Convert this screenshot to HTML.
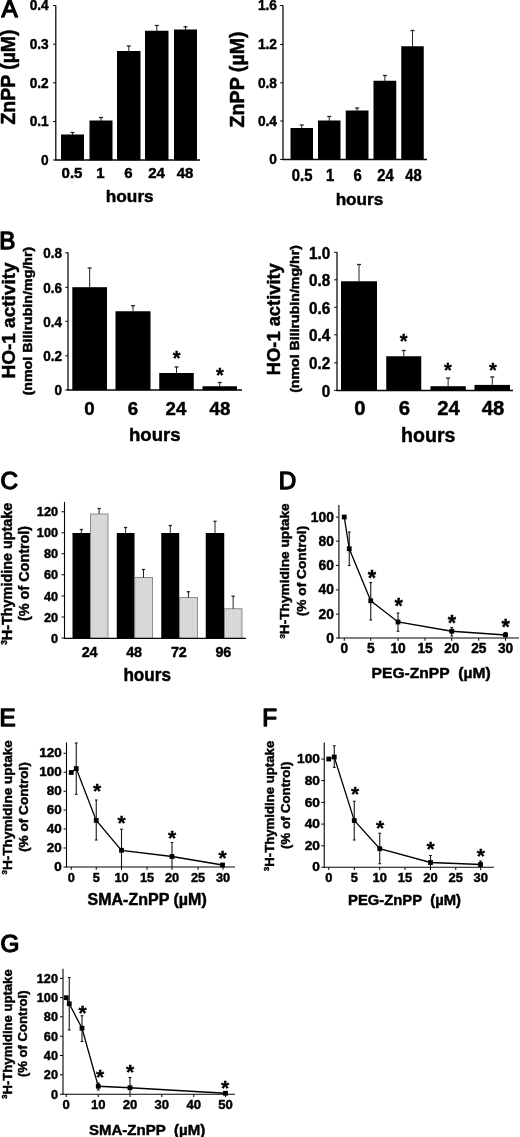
<!DOCTYPE html>
<html><head><meta charset="utf-8"><title>Figure</title>
<style>
html,body{margin:0;padding:0;background:#fff;}
svg{display:block;filter:grayscale(1) blur(0.35px);font-family:"Liberation Sans",sans-serif;}
</style></head>
<body>
<svg width="520" height="1137" viewBox="0 0 520 1137">
<defs>
<pattern id="dots" width="2" height="2" patternUnits="userSpaceOnUse">
<rect width="2" height="2" fill="#dbdbdb"/><rect width="1" height="1" fill="#cccccc"/>
</pattern>
</defs>
<rect width="520" height="1137" fill="#fff"/>
<rect x="61.00" y="134.50" width="23.00" height="25.80" fill="#000"/>
<line x1="72.50" y1="132.50" x2="72.50" y2="135.00" stroke="#222" stroke-width="1.0"/>
<line x1="70.50" y1="132.50" x2="74.50" y2="132.50" stroke="#222" stroke-width="1.3"/>
<rect x="89.50" y="120.50" width="23.00" height="39.80" fill="#000"/>
<line x1="101.00" y1="117.50" x2="101.00" y2="121.00" stroke="#222" stroke-width="1.0"/>
<line x1="99.00" y1="117.50" x2="103.00" y2="117.50" stroke="#222" stroke-width="1.3"/>
<rect x="117.00" y="51.00" width="23.50" height="109.30" fill="#000"/>
<line x1="128.75" y1="46.00" x2="128.75" y2="51.50" stroke="#222" stroke-width="1.0"/>
<line x1="126.75" y1="46.00" x2="130.75" y2="46.00" stroke="#222" stroke-width="1.3"/>
<rect x="145.00" y="30.75" width="23.50" height="129.55" fill="#000"/>
<line x1="156.75" y1="25.50" x2="156.75" y2="31.25" stroke="#222" stroke-width="1.0"/>
<line x1="154.75" y1="25.50" x2="158.75" y2="25.50" stroke="#222" stroke-width="1.3"/>
<rect x="174.00" y="29.50" width="23.00" height="130.80" fill="#000"/>
<line x1="185.50" y1="26.75" x2="185.50" y2="30.00" stroke="#222" stroke-width="1.0"/>
<line x1="183.50" y1="26.75" x2="187.50" y2="26.75" stroke="#222" stroke-width="1.3"/>
<line x1="55.80" y1="5.50" x2="55.80" y2="160.50" stroke="#050505" stroke-width="1.25"/>
<line x1="55.30" y1="160.00" x2="200.00" y2="160.00" stroke="#050505" stroke-width="1.3"/>
<line x1="53.00" y1="5.50" x2="55.80" y2="5.50" stroke="#050505" stroke-width="1.0"/>
<text transform="translate(48.70,10.49) scale(0.945,1)" font-size="14.5" font-weight="bold" text-anchor="end" fill="#000" stroke="#000" stroke-width="0.45">0.4</text>
<line x1="53.00" y1="44.15" x2="55.80" y2="44.15" stroke="#050505" stroke-width="1.0"/>
<text transform="translate(48.70,49.14) scale(0.945,1)" font-size="14.5" font-weight="bold" text-anchor="end" fill="#000" stroke="#000" stroke-width="0.45">0.3</text>
<line x1="53.00" y1="82.80" x2="55.80" y2="82.80" stroke="#050505" stroke-width="1.0"/>
<text transform="translate(48.70,87.79) scale(0.945,1)" font-size="14.5" font-weight="bold" text-anchor="end" fill="#000" stroke="#000" stroke-width="0.45">0.2</text>
<line x1="53.00" y1="121.45" x2="55.80" y2="121.45" stroke="#050505" stroke-width="1.0"/>
<text transform="translate(48.70,126.44) scale(0.945,1)" font-size="14.5" font-weight="bold" text-anchor="end" fill="#000" stroke="#000" stroke-width="0.45">0.1</text>
<line x1="53.00" y1="160.00" x2="55.80" y2="160.00" stroke="#050505" stroke-width="1.0"/>
<text transform="translate(48.70,164.99) scale(0.945,1)" font-size="14.5" font-weight="bold" text-anchor="end" fill="#000" stroke="#000" stroke-width="0.45">0</text>
<text transform="translate(72.00,178.15) scale(0.98,1)" font-size="15.3" font-weight="bold" text-anchor="middle" fill="#000" stroke="#000" stroke-width="0.45">0.5</text>
<text transform="translate(100.50,178.15) scale(0.98,1)" font-size="15.3" font-weight="bold" text-anchor="middle" fill="#000" stroke="#000" stroke-width="0.45">1</text>
<text transform="translate(128.50,178.15) scale(0.98,1)" font-size="15.3" font-weight="bold" text-anchor="middle" fill="#000" stroke="#000" stroke-width="0.45">6</text>
<text transform="translate(156.50,178.15) scale(0.98,1)" font-size="15.3" font-weight="bold" text-anchor="middle" fill="#000" stroke="#000" stroke-width="0.45">24</text>
<text transform="translate(185.00,178.15) scale(0.98,1)" font-size="15.3" font-weight="bold" text-anchor="middle" fill="#000" stroke="#000" stroke-width="0.45">48</text>
<text transform="translate(129.75,202.10) scale(0.99,1)" font-size="17.4" font-weight="bold" text-anchor="middle" fill="#000" stroke="#000" stroke-width="0.45">hours</text>
<text transform="translate(15.20,77.00) rotate(-90) scale(1.008,1)" font-size="19.3" font-weight="bold" text-anchor="middle" fill="#000" stroke="#000" stroke-width="0.45">ZnPP (µM)</text>
<text transform="translate(1.47,17.45) scale(1.04,1)" font-size="23.3" font-weight="normal" text-anchor="start" fill="#000" stroke="#000" stroke-width="1.3" stroke-linejoin="round">A</text>
<rect x="290.50" y="128.00" width="22.50" height="31.80" fill="#000"/>
<line x1="301.75" y1="125.00" x2="301.75" y2="128.50" stroke="#222" stroke-width="1.0"/>
<line x1="299.75" y1="125.00" x2="303.75" y2="125.00" stroke="#222" stroke-width="1.3"/>
<rect x="318.00" y="120.50" width="22.50" height="39.30" fill="#000"/>
<line x1="329.25" y1="116.50" x2="329.25" y2="121.00" stroke="#222" stroke-width="1.0"/>
<line x1="327.25" y1="116.50" x2="331.25" y2="116.50" stroke="#222" stroke-width="1.3"/>
<rect x="345.75" y="110.50" width="22.75" height="49.30" fill="#000"/>
<line x1="357.12" y1="108.00" x2="357.12" y2="111.00" stroke="#222" stroke-width="1.0"/>
<line x1="355.12" y1="108.00" x2="359.12" y2="108.00" stroke="#222" stroke-width="1.3"/>
<rect x="373.50" y="80.75" width="22.75" height="79.05" fill="#000"/>
<line x1="384.88" y1="75.50" x2="384.88" y2="81.25" stroke="#222" stroke-width="1.0"/>
<line x1="382.88" y1="75.50" x2="386.88" y2="75.50" stroke="#222" stroke-width="1.3"/>
<rect x="401.25" y="46.25" width="22.50" height="113.55" fill="#000"/>
<line x1="412.50" y1="30.50" x2="412.50" y2="46.75" stroke="#222" stroke-width="1.0"/>
<line x1="410.50" y1="30.50" x2="414.50" y2="30.50" stroke="#222" stroke-width="1.3"/>
<line x1="283.00" y1="5.50" x2="283.00" y2="160.00" stroke="#050505" stroke-width="1.25"/>
<line x1="282.50" y1="159.50" x2="427.00" y2="159.50" stroke="#050505" stroke-width="1.3"/>
<line x1="280.20" y1="5.50" x2="283.00" y2="5.50" stroke="#050505" stroke-width="1.0"/>
<text transform="translate(277.00,10.42) scale(0.96,1)" font-size="14.3" font-weight="bold" text-anchor="end" fill="#000" stroke="#000" stroke-width="0.45">1.6</text>
<line x1="280.20" y1="44.50" x2="283.00" y2="44.50" stroke="#050505" stroke-width="1.0"/>
<text transform="translate(277.00,49.42) scale(0.96,1)" font-size="14.3" font-weight="bold" text-anchor="end" fill="#000" stroke="#000" stroke-width="0.45">1.2</text>
<line x1="280.20" y1="82.80" x2="283.00" y2="82.80" stroke="#050505" stroke-width="1.0"/>
<text transform="translate(277.00,87.72) scale(0.96,1)" font-size="14.3" font-weight="bold" text-anchor="end" fill="#000" stroke="#000" stroke-width="0.45">0.8</text>
<line x1="280.20" y1="121.00" x2="283.00" y2="121.00" stroke="#050505" stroke-width="1.0"/>
<text transform="translate(277.00,125.92) scale(0.96,1)" font-size="14.3" font-weight="bold" text-anchor="end" fill="#000" stroke="#000" stroke-width="0.45">0.4</text>
<line x1="280.20" y1="159.50" x2="283.00" y2="159.50" stroke="#050505" stroke-width="1.0"/>
<text transform="translate(277.00,164.42) scale(0.96,1)" font-size="14.3" font-weight="bold" text-anchor="end" fill="#000" stroke="#000" stroke-width="0.45">0</text>
<text transform="translate(302.10,181.10) scale(0.95,1)" font-size="15.6" font-weight="bold" text-anchor="middle" fill="#000" stroke="#000" stroke-width="0.45">0.5</text>
<text transform="translate(330.10,181.10) scale(0.95,1)" font-size="15.6" font-weight="bold" text-anchor="middle" fill="#000" stroke="#000" stroke-width="0.45">1</text>
<text transform="translate(357.60,181.10) scale(0.95,1)" font-size="15.6" font-weight="bold" text-anchor="middle" fill="#000" stroke="#000" stroke-width="0.45">6</text>
<text transform="translate(385.60,181.10) scale(0.95,1)" font-size="15.6" font-weight="bold" text-anchor="middle" fill="#000" stroke="#000" stroke-width="0.45">24</text>
<text transform="translate(413.60,181.10) scale(0.95,1)" font-size="15.6" font-weight="bold" text-anchor="middle" fill="#000" stroke="#000" stroke-width="0.45">48</text>
<text transform="translate(359.50,205.05) scale(1.0,1)" font-size="17.2" font-weight="bold" text-anchor="middle" fill="#000" stroke="#000" stroke-width="0.45">hours</text>
<text transform="translate(243.85,79.40) rotate(-90) scale(1.018,1)" font-size="19.3" font-weight="bold" text-anchor="middle" fill="#000" stroke="#000" stroke-width="0.45">ZnPP (µM)</text>
<rect x="72.30" y="287.20" width="34.70" height="103.10" fill="#000"/>
<line x1="89.65" y1="268.00" x2="89.65" y2="287.70" stroke="#222" stroke-width="1.0"/>
<line x1="87.65" y1="268.00" x2="91.65" y2="268.00" stroke="#222" stroke-width="1.3"/>
<rect x="115.50" y="311.25" width="35.00" height="79.05" fill="#000"/>
<line x1="133.00" y1="305.75" x2="133.00" y2="311.75" stroke="#222" stroke-width="1.0"/>
<line x1="131.00" y1="305.75" x2="135.00" y2="305.75" stroke="#222" stroke-width="1.3"/>
<rect x="159.25" y="373.00" width="34.50" height="17.30" fill="#000"/>
<line x1="176.50" y1="367.00" x2="176.50" y2="373.50" stroke="#222" stroke-width="1.0"/>
<line x1="174.50" y1="367.00" x2="178.50" y2="367.00" stroke="#222" stroke-width="1.3"/>
<rect x="202.50" y="386.25" width="34.50" height="4.05" fill="#000"/>
<line x1="219.75" y1="382.50" x2="219.75" y2="386.75" stroke="#222" stroke-width="1.0"/>
<line x1="217.75" y1="382.50" x2="221.75" y2="382.50" stroke="#222" stroke-width="1.3"/>
<line x1="68.00" y1="252.50" x2="68.00" y2="390.50" stroke="#050505" stroke-width="1.25"/>
<line x1="67.50" y1="390.00" x2="242.00" y2="390.00" stroke="#050505" stroke-width="1.3"/>
<line x1="65.20" y1="252.80" x2="68.00" y2="252.80" stroke="#050505" stroke-width="1.0"/>
<text transform="translate(61.90,258.03) scale(0.925,1)" font-size="14.6" font-weight="bold" text-anchor="end" fill="#000" stroke="#000" stroke-width="0.45">0.8</text>
<line x1="65.20" y1="287.30" x2="68.00" y2="287.30" stroke="#050505" stroke-width="1.0"/>
<text transform="translate(61.90,292.53) scale(0.925,1)" font-size="14.6" font-weight="bold" text-anchor="end" fill="#000" stroke="#000" stroke-width="0.45">0.6</text>
<line x1="65.20" y1="321.30" x2="68.00" y2="321.30" stroke="#050505" stroke-width="1.0"/>
<text transform="translate(61.90,326.53) scale(0.925,1)" font-size="14.6" font-weight="bold" text-anchor="end" fill="#000" stroke="#000" stroke-width="0.45">0.4</text>
<line x1="65.20" y1="355.80" x2="68.00" y2="355.80" stroke="#050505" stroke-width="1.0"/>
<text transform="translate(61.90,361.03) scale(0.925,1)" font-size="14.6" font-weight="bold" text-anchor="end" fill="#000" stroke="#000" stroke-width="0.45">0.2</text>
<line x1="65.20" y1="390.00" x2="68.00" y2="390.00" stroke="#050505" stroke-width="1.0"/>
<text transform="translate(61.90,395.23) scale(0.925,1)" font-size="14.6" font-weight="bold" text-anchor="end" fill="#000" stroke="#000" stroke-width="0.45">0</text>
<text transform="translate(89.50,415.00) scale(1.01,1)" font-size="18.5" font-weight="bold" text-anchor="middle" fill="#000" stroke="#000" stroke-width="0.45">0</text>
<text transform="translate(133.00,415.00) scale(1.01,1)" font-size="18.5" font-weight="bold" text-anchor="middle" fill="#000" stroke="#000" stroke-width="0.45">6</text>
<text transform="translate(176.00,415.00) scale(1.01,1)" font-size="18.5" font-weight="bold" text-anchor="middle" fill="#000" stroke="#000" stroke-width="0.45">24</text>
<text transform="translate(220.00,415.00) scale(1.01,1)" font-size="18.5" font-weight="bold" text-anchor="middle" fill="#000" stroke="#000" stroke-width="0.45">48</text>
<text transform="translate(154.80,440.85) scale(1.02,1)" font-size="18.2" font-weight="bold" text-anchor="middle" fill="#000" stroke="#000" stroke-width="0.45">hours</text>
<text transform="translate(15.40,320.50) rotate(-90) scale(1.0,1)" font-size="19" font-weight="bold" text-anchor="middle" fill="#000" stroke="#000" stroke-width="0.45">HO-1 activity</text>
<text transform="translate(32.30,321.10) rotate(-90) scale(1.17,1)" font-size="12.2" font-weight="bold" text-anchor="middle" fill="#000" stroke="#000" stroke-width="0.45">(nmol Bilirubin/mg/hr)</text>
<text transform="translate(176.75,364.55) scale(1.0,1)" font-size="20" font-weight="bold" text-anchor="middle" fill="#000" stroke="#000" stroke-width="0.35">*</text>
<text transform="translate(220.00,381.50) scale(1.0,1)" font-size="20" font-weight="bold" text-anchor="middle" fill="#000" stroke="#000" stroke-width="0.35">*</text>
<text transform="translate(-0.72,248.95) scale(1.04,1)" font-size="23.3" font-weight="normal" text-anchor="start" fill="#000" stroke="#000" stroke-width="1.3" stroke-linejoin="round">B</text>
<rect x="341.00" y="281.25" width="36.00" height="109.55" fill="#000"/>
<line x1="359.00" y1="264.50" x2="359.00" y2="281.75" stroke="#222" stroke-width="1.0"/>
<line x1="357.00" y1="264.50" x2="361.00" y2="264.50" stroke="#222" stroke-width="1.3"/>
<rect x="386.25" y="356.25" width="35.00" height="34.55" fill="#000"/>
<line x1="403.75" y1="350.50" x2="403.75" y2="356.75" stroke="#222" stroke-width="1.0"/>
<line x1="401.75" y1="350.50" x2="405.75" y2="350.50" stroke="#222" stroke-width="1.3"/>
<rect x="430.50" y="386.20" width="35.25" height="4.60" fill="#000"/>
<line x1="448.12" y1="378.10" x2="448.12" y2="386.70" stroke="#222" stroke-width="1.0"/>
<line x1="446.12" y1="378.10" x2="450.12" y2="378.10" stroke="#222" stroke-width="1.3"/>
<rect x="474.50" y="384.90" width="35.50" height="5.90" fill="#000"/>
<line x1="492.25" y1="376.90" x2="492.25" y2="385.40" stroke="#222" stroke-width="1.0"/>
<line x1="490.25" y1="376.90" x2="494.25" y2="376.90" stroke="#222" stroke-width="1.3"/>
<line x1="337.00" y1="252.00" x2="337.00" y2="391.00" stroke="#050505" stroke-width="1.25"/>
<line x1="336.50" y1="390.50" x2="513.00" y2="390.50" stroke="#050505" stroke-width="1.3"/>
<line x1="334.20" y1="252.30" x2="337.00" y2="252.30" stroke="#050505" stroke-width="1.0"/>
<text transform="translate(330.20,258.88) scale(0.915,1)" font-size="16.7" font-weight="bold" text-anchor="end" fill="#000" stroke="#000" stroke-width="0.45">1.0</text>
<line x1="334.20" y1="279.80" x2="337.00" y2="279.80" stroke="#050505" stroke-width="1.0"/>
<text transform="translate(330.20,286.38) scale(0.915,1)" font-size="16.7" font-weight="bold" text-anchor="end" fill="#000" stroke="#000" stroke-width="0.45">0.8</text>
<line x1="334.20" y1="307.30" x2="337.00" y2="307.30" stroke="#050505" stroke-width="1.0"/>
<text transform="translate(330.20,313.88) scale(0.915,1)" font-size="16.7" font-weight="bold" text-anchor="end" fill="#000" stroke="#000" stroke-width="0.45">0.6</text>
<line x1="334.20" y1="334.80" x2="337.00" y2="334.80" stroke="#050505" stroke-width="1.0"/>
<text transform="translate(330.20,341.38) scale(0.915,1)" font-size="16.7" font-weight="bold" text-anchor="end" fill="#000" stroke="#000" stroke-width="0.45">0.4</text>
<line x1="334.20" y1="362.80" x2="337.00" y2="362.80" stroke="#050505" stroke-width="1.0"/>
<text transform="translate(330.20,369.38) scale(0.915,1)" font-size="16.7" font-weight="bold" text-anchor="end" fill="#000" stroke="#000" stroke-width="0.45">0.2</text>
<line x1="334.20" y1="390.40" x2="337.00" y2="390.40" stroke="#050505" stroke-width="1.0"/>
<text transform="translate(330.20,396.98) scale(0.915,1)" font-size="16.7" font-weight="bold" text-anchor="end" fill="#000" stroke="#000" stroke-width="0.45">0</text>
<text transform="translate(359.85,415.40) scale(0.99,1)" font-size="20.5" font-weight="bold" text-anchor="middle" fill="#000" stroke="#000" stroke-width="0.45">0</text>
<text transform="translate(404.35,415.40) scale(0.99,1)" font-size="20.5" font-weight="bold" text-anchor="middle" fill="#000" stroke="#000" stroke-width="0.45">6</text>
<text transform="translate(448.60,415.40) scale(0.99,1)" font-size="20.5" font-weight="bold" text-anchor="middle" fill="#000" stroke="#000" stroke-width="0.45">24</text>
<text transform="translate(493.10,415.40) scale(0.99,1)" font-size="20.5" font-weight="bold" text-anchor="middle" fill="#000" stroke="#000" stroke-width="0.45">48</text>
<text transform="translate(428.20,442.30) scale(0.97,1)" font-size="20.2" font-weight="bold" text-anchor="middle" fill="#000" stroke="#000" stroke-width="0.45">hours</text>
<text transform="translate(280.00,319.20) rotate(-90) scale(1.03,1)" font-size="17.8" font-weight="bold" text-anchor="middle" fill="#000" stroke="#000" stroke-width="0.45">HO-1 activity</text>
<text transform="translate(298.50,319.00) rotate(-90) scale(1.19,1)" font-size="11.9" font-weight="bold" text-anchor="middle" fill="#000" stroke="#000" stroke-width="0.45">(nmol Bilirubin/mg/hr)</text>
<text transform="translate(403.75,347.80) scale(1.0,1)" font-size="20" font-weight="bold" text-anchor="middle" fill="#000" stroke="#000" stroke-width="0.35">*</text>
<text transform="translate(448.00,376.80) scale(1.0,1)" font-size="20" font-weight="bold" text-anchor="middle" fill="#000" stroke="#000" stroke-width="0.35">*</text>
<text transform="translate(493.00,376.80) scale(1.0,1)" font-size="20" font-weight="bold" text-anchor="middle" fill="#000" stroke="#000" stroke-width="0.35">*</text>
<rect x="72.50" y="533.00" width="17.75" height="105.60" fill="#000"/>
<rect x="90.55" y="514.00" width="17.45" height="124.30" fill="url(#dots)" stroke="#777" stroke-width="0.8"/>
<line x1="81.38" y1="529.50" x2="81.38" y2="533.50" stroke="#222" stroke-width="1.0"/>
<line x1="79.78" y1="529.50" x2="82.97" y2="529.50" stroke="#222" stroke-width="1.3"/>
<line x1="99.12" y1="508.50" x2="99.12" y2="514.00" stroke="#222" stroke-width="1.0"/>
<line x1="97.53" y1="508.50" x2="100.72" y2="508.50" stroke="#222" stroke-width="1.3"/>
<rect x="116.75" y="533.00" width="17.75" height="105.60" fill="#000"/>
<rect x="134.80" y="577.50" width="17.70" height="60.80" fill="url(#dots)" stroke="#777" stroke-width="0.8"/>
<line x1="125.62" y1="527.50" x2="125.62" y2="533.50" stroke="#222" stroke-width="1.0"/>
<line x1="124.03" y1="527.50" x2="127.22" y2="527.50" stroke="#222" stroke-width="1.3"/>
<line x1="143.50" y1="569.50" x2="143.50" y2="577.50" stroke="#222" stroke-width="1.0"/>
<line x1="141.90" y1="569.50" x2="145.10" y2="569.50" stroke="#222" stroke-width="1.3"/>
<rect x="161.25" y="533.00" width="18.00" height="105.60" fill="#000"/>
<rect x="179.55" y="597.50" width="17.95" height="40.80" fill="url(#dots)" stroke="#777" stroke-width="0.8"/>
<line x1="170.25" y1="525.50" x2="170.25" y2="533.50" stroke="#222" stroke-width="1.0"/>
<line x1="168.65" y1="525.50" x2="171.85" y2="525.50" stroke="#222" stroke-width="1.3"/>
<line x1="188.38" y1="591.75" x2="188.38" y2="597.50" stroke="#222" stroke-width="1.0"/>
<line x1="186.78" y1="591.75" x2="189.97" y2="591.75" stroke="#222" stroke-width="1.3"/>
<rect x="205.75" y="533.00" width="18.50" height="105.60" fill="#000"/>
<rect x="224.55" y="608.75" width="17.45" height="29.55" fill="url(#dots)" stroke="#777" stroke-width="0.8"/>
<line x1="215.00" y1="521.25" x2="215.00" y2="533.50" stroke="#222" stroke-width="1.0"/>
<line x1="213.40" y1="521.25" x2="216.60" y2="521.25" stroke="#222" stroke-width="1.3"/>
<line x1="233.12" y1="596.25" x2="233.12" y2="608.75" stroke="#222" stroke-width="1.0"/>
<line x1="231.53" y1="596.25" x2="234.72" y2="596.25" stroke="#222" stroke-width="1.3"/>
<line x1="64.50" y1="502.00" x2="64.50" y2="638.80" stroke="#050505" stroke-width="1.1"/>
<line x1="64.00" y1="638.30" x2="246.00" y2="638.30" stroke="#050505" stroke-width="1.2"/>
<line x1="61.50" y1="511.75" x2="64.50" y2="511.75" stroke="#050505" stroke-width="1.0"/>
<text transform="translate(58.00,516.31) scale(0.94,1)" font-size="13.5" font-weight="bold" text-anchor="end" fill="#000" stroke="#000" stroke-width="0.45">120</text>
<line x1="61.50" y1="532.75" x2="64.50" y2="532.75" stroke="#050505" stroke-width="1.0"/>
<text transform="translate(58.00,537.31) scale(0.94,1)" font-size="13.5" font-weight="bold" text-anchor="end" fill="#000" stroke="#000" stroke-width="0.45">100</text>
<line x1="61.50" y1="553.75" x2="64.50" y2="553.75" stroke="#050505" stroke-width="1.0"/>
<text transform="translate(58.00,558.31) scale(0.94,1)" font-size="13.5" font-weight="bold" text-anchor="end" fill="#000" stroke="#000" stroke-width="0.45">80</text>
<line x1="61.50" y1="574.75" x2="64.50" y2="574.75" stroke="#050505" stroke-width="1.0"/>
<text transform="translate(58.00,579.31) scale(0.94,1)" font-size="13.5" font-weight="bold" text-anchor="end" fill="#000" stroke="#000" stroke-width="0.45">60</text>
<line x1="61.50" y1="596.00" x2="64.50" y2="596.00" stroke="#050505" stroke-width="1.0"/>
<text transform="translate(58.00,600.56) scale(0.94,1)" font-size="13.5" font-weight="bold" text-anchor="end" fill="#000" stroke="#000" stroke-width="0.45">40</text>
<line x1="61.50" y1="617.00" x2="64.50" y2="617.00" stroke="#050505" stroke-width="1.0"/>
<text transform="translate(58.00,621.56) scale(0.94,1)" font-size="13.5" font-weight="bold" text-anchor="end" fill="#000" stroke="#000" stroke-width="0.45">20</text>
<line x1="61.50" y1="638.00" x2="64.50" y2="638.00" stroke="#050505" stroke-width="1.0"/>
<text transform="translate(58.00,642.56) scale(0.94,1)" font-size="13.5" font-weight="bold" text-anchor="end" fill="#000" stroke="#000" stroke-width="0.45">0</text>
<text transform="translate(89.60,656.50) scale(0.933,1)" font-size="15.4" font-weight="bold" text-anchor="middle" fill="#000" stroke="#000" stroke-width="0.45">24</text>
<text transform="translate(134.10,656.50) scale(0.933,1)" font-size="15.4" font-weight="bold" text-anchor="middle" fill="#000" stroke="#000" stroke-width="0.45">48</text>
<text transform="translate(178.85,656.50) scale(0.933,1)" font-size="15.4" font-weight="bold" text-anchor="middle" fill="#000" stroke="#000" stroke-width="0.45">72</text>
<text transform="translate(223.35,656.50) scale(0.933,1)" font-size="15.4" font-weight="bold" text-anchor="middle" fill="#000" stroke="#000" stroke-width="0.45">96</text>
<text transform="translate(147.20,680.50) scale(0.98,1)" font-size="17.5" font-weight="bold" text-anchor="middle" fill="#000" stroke="#000" stroke-width="0.45">hours</text>
<text transform="translate(11.60,573.75) rotate(-90) scale(1.0,1)" font-size="14.4" font-weight="bold" text-anchor="middle" fill="#000" stroke="#000" stroke-width="0.45"><tspan font-size="8.4" dy="-4.8">3</tspan><tspan dy="4.8">H-Thymidine uptake</tspan></text>
<text transform="translate(28.80,573.40) rotate(-90) scale(1.0,1)" font-size="14.4" font-weight="bold" text-anchor="middle" fill="#000" stroke="#000" stroke-width="0.45">(% of Control)</text>
<text transform="translate(0.44,488.95) scale(1.04,1)" font-size="23.3" font-weight="normal" text-anchor="start" fill="#000" stroke="#000" stroke-width="1.3" stroke-linejoin="round">C</text>
<line x1="338.90" y1="505.00" x2="338.90" y2="638.50" stroke="#050505" stroke-width="1.1"/>
<line x1="335.90" y1="638.00" x2="519.00" y2="638.00" stroke="#050505" stroke-width="1.2"/>
<line x1="335.90" y1="517.15" x2="338.90" y2="517.15" stroke="#050505" stroke-width="1.0"/>
<text transform="translate(333.90,521.71) scale(0.95,1)" font-size="14.6" font-weight="bold" text-anchor="end" fill="#000" stroke="#000" stroke-width="0.45">100</text>
<line x1="335.90" y1="541.15" x2="338.90" y2="541.15" stroke="#050505" stroke-width="1.0"/>
<text transform="translate(333.90,545.71) scale(0.95,1)" font-size="14.6" font-weight="bold" text-anchor="end" fill="#000" stroke="#000" stroke-width="0.45">80</text>
<line x1="335.90" y1="565.40" x2="338.90" y2="565.40" stroke="#050505" stroke-width="1.0"/>
<text transform="translate(333.90,569.96) scale(0.95,1)" font-size="14.6" font-weight="bold" text-anchor="end" fill="#000" stroke="#000" stroke-width="0.45">60</text>
<line x1="335.90" y1="589.90" x2="338.90" y2="589.90" stroke="#050505" stroke-width="1.0"/>
<text transform="translate(333.90,594.46) scale(0.95,1)" font-size="14.6" font-weight="bold" text-anchor="end" fill="#000" stroke="#000" stroke-width="0.45">40</text>
<line x1="335.90" y1="614.15" x2="338.90" y2="614.15" stroke="#050505" stroke-width="1.0"/>
<text transform="translate(333.90,618.71) scale(0.95,1)" font-size="14.6" font-weight="bold" text-anchor="end" fill="#000" stroke="#000" stroke-width="0.45">20</text>
<text transform="translate(333.90,642.56) scale(0.95,1)" font-size="14.6" font-weight="bold" text-anchor="end" fill="#000" stroke="#000" stroke-width="0.45">0</text>
<line x1="344.25" y1="638.00" x2="344.25" y2="640.80" stroke="#050505" stroke-width="1.0"/>
<text transform="translate(344.25,653.30) scale(0.98,1)" font-size="14.0" font-weight="bold" text-anchor="middle" fill="#000" stroke="#000" stroke-width="0.45">0</text>
<line x1="370.75" y1="638.00" x2="370.75" y2="640.80" stroke="#050505" stroke-width="1.0"/>
<text transform="translate(370.75,653.30) scale(0.98,1)" font-size="14.0" font-weight="bold" text-anchor="middle" fill="#000" stroke="#000" stroke-width="0.45">5</text>
<line x1="398.00" y1="638.00" x2="398.00" y2="640.80" stroke="#050505" stroke-width="1.0"/>
<text transform="translate(398.00,653.30) scale(0.98,1)" font-size="14.0" font-weight="bold" text-anchor="middle" fill="#000" stroke="#000" stroke-width="0.45">10</text>
<line x1="425.00" y1="638.00" x2="425.00" y2="640.80" stroke="#050505" stroke-width="1.0"/>
<text transform="translate(425.00,653.30) scale(0.98,1)" font-size="14.0" font-weight="bold" text-anchor="middle" fill="#000" stroke="#000" stroke-width="0.45">15</text>
<line x1="451.75" y1="638.00" x2="451.75" y2="640.80" stroke="#050505" stroke-width="1.0"/>
<text transform="translate(451.75,653.30) scale(0.98,1)" font-size="14.0" font-weight="bold" text-anchor="middle" fill="#000" stroke="#000" stroke-width="0.45">20</text>
<line x1="478.75" y1="638.00" x2="478.75" y2="640.80" stroke="#050505" stroke-width="1.0"/>
<text transform="translate(478.75,653.30) scale(0.98,1)" font-size="14.0" font-weight="bold" text-anchor="middle" fill="#000" stroke="#000" stroke-width="0.45">25</text>
<line x1="505.50" y1="638.00" x2="505.50" y2="640.80" stroke="#050505" stroke-width="1.0"/>
<text transform="translate(505.50,653.30) scale(0.98,1)" font-size="14.0" font-weight="bold" text-anchor="middle" fill="#000" stroke="#000" stroke-width="0.45">30</text>
<line x1="349.25" y1="532.00" x2="349.25" y2="565.50" stroke="#151515" stroke-width="1.1"/>
<line x1="347.85" y1="532.00" x2="350.65" y2="532.00" stroke="#151515" stroke-width="1.1"/>
<line x1="347.85" y1="565.50" x2="350.65" y2="565.50" stroke="#151515" stroke-width="1.1"/>
<line x1="370.75" y1="582.50" x2="370.75" y2="620.00" stroke="#151515" stroke-width="1.1"/>
<line x1="369.35" y1="582.50" x2="372.15" y2="582.50" stroke="#151515" stroke-width="1.1"/>
<line x1="369.35" y1="620.00" x2="372.15" y2="620.00" stroke="#151515" stroke-width="1.1"/>
<line x1="398.00" y1="613.00" x2="398.00" y2="631.25" stroke="#151515" stroke-width="1.1"/>
<line x1="396.60" y1="613.00" x2="399.40" y2="613.00" stroke="#151515" stroke-width="1.1"/>
<line x1="396.60" y1="631.25" x2="399.40" y2="631.25" stroke="#151515" stroke-width="1.1"/>
<line x1="451.75" y1="627.50" x2="451.75" y2="636.00" stroke="#151515" stroke-width="1.1"/>
<line x1="450.35" y1="627.50" x2="453.15" y2="627.50" stroke="#151515" stroke-width="1.1"/>
<line x1="450.35" y1="636.00" x2="453.15" y2="636.00" stroke="#151515" stroke-width="1.1"/>
<line x1="505.50" y1="632.50" x2="505.50" y2="637.00" stroke="#151515" stroke-width="1.1"/>
<line x1="504.10" y1="632.50" x2="506.90" y2="632.50" stroke="#151515" stroke-width="1.1"/>
<polyline points="344.25,517.00 349.25,548.75 370.75,600.75 398.00,622.00 451.75,631.25 505.50,635.00" fill="none" stroke="#000" stroke-width="1.3"/>
<rect x="341.85" y="514.60" width="4.80" height="4.80" fill="#000"/>
<rect x="346.85" y="546.35" width="4.80" height="4.80" fill="#000"/>
<rect x="368.35" y="598.35" width="4.80" height="4.80" fill="#000"/>
<rect x="395.60" y="619.60" width="4.80" height="4.80" fill="#000"/>
<rect x="449.35" y="628.85" width="4.80" height="4.80" fill="#000"/>
<rect x="503.10" y="632.60" width="4.80" height="4.80" fill="#000"/>
<text transform="translate(372.00,585.07) scale(1.0,1)" font-size="21.5" font-weight="bold" text-anchor="middle" fill="#000" stroke="#000" stroke-width="0.35">*</text>
<text transform="translate(398.75,613.07) scale(1.0,1)" font-size="21.5" font-weight="bold" text-anchor="middle" fill="#000" stroke="#000" stroke-width="0.35">*</text>
<text transform="translate(452.00,629.57) scale(1.0,1)" font-size="21.5" font-weight="bold" text-anchor="middle" fill="#000" stroke="#000" stroke-width="0.35">*</text>
<text transform="translate(505.75,633.57) scale(1.0,1)" font-size="21.5" font-weight="bold" text-anchor="middle" fill="#000" stroke="#000" stroke-width="0.35">*</text>
<text transform="translate(431.10,677.50) scale(1.04,1)" font-size="15" font-weight="bold" text-anchor="middle" fill="#000" stroke="#000" stroke-width="0.45">PEG-ZnPP&#160;&#160;(µM)</text>
<text transform="translate(289.40,571.00) rotate(-90) scale(1.0,1)" font-size="13.7" font-weight="bold" text-anchor="middle" fill="#000" stroke="#000" stroke-width="0.45"><tspan font-size="7.9" dy="-4.5">3</tspan><tspan dy="4.5">H-Thymidine uptake</tspan></text>
<text transform="translate(305.60,571.00) rotate(-90) scale(1.0,1)" font-size="13.7" font-weight="bold" text-anchor="middle" fill="#000" stroke="#000" stroke-width="0.45">(% of Control)</text>
<text transform="translate(278.74,489.25) scale(1.04,1)" font-size="23.3" font-weight="normal" text-anchor="start" fill="#000" stroke="#000" stroke-width="1.3" stroke-linejoin="round">D</text>
<line x1="66.50" y1="742.50" x2="66.50" y2="867.50" stroke="#050505" stroke-width="1.1"/>
<line x1="63.50" y1="867.00" x2="235.00" y2="867.00" stroke="#050505" stroke-width="1.2"/>
<line x1="63.50" y1="753.25" x2="66.50" y2="753.25" stroke="#050505" stroke-width="1.0"/>
<text transform="translate(61.70,757.20) scale(1.02,1)" font-size="13.2" font-weight="bold" text-anchor="end" fill="#000" stroke="#000" stroke-width="0.45">120</text>
<line x1="63.50" y1="772.25" x2="66.50" y2="772.25" stroke="#050505" stroke-width="1.0"/>
<text transform="translate(61.70,776.20) scale(1.02,1)" font-size="13.2" font-weight="bold" text-anchor="end" fill="#000" stroke="#000" stroke-width="0.45">100</text>
<line x1="63.50" y1="791.25" x2="66.50" y2="791.25" stroke="#050505" stroke-width="1.0"/>
<text transform="translate(61.70,795.20) scale(1.02,1)" font-size="13.2" font-weight="bold" text-anchor="end" fill="#000" stroke="#000" stroke-width="0.45">80</text>
<line x1="63.50" y1="810.00" x2="66.50" y2="810.00" stroke="#050505" stroke-width="1.0"/>
<text transform="translate(61.70,813.95) scale(1.02,1)" font-size="13.2" font-weight="bold" text-anchor="end" fill="#000" stroke="#000" stroke-width="0.45">60</text>
<line x1="63.50" y1="829.00" x2="66.50" y2="829.00" stroke="#050505" stroke-width="1.0"/>
<text transform="translate(61.70,832.95) scale(1.02,1)" font-size="13.2" font-weight="bold" text-anchor="end" fill="#000" stroke="#000" stroke-width="0.45">40</text>
<line x1="63.50" y1="848.00" x2="66.50" y2="848.00" stroke="#050505" stroke-width="1.0"/>
<text transform="translate(61.70,851.95) scale(1.02,1)" font-size="13.2" font-weight="bold" text-anchor="end" fill="#000" stroke="#000" stroke-width="0.45">20</text>
<text transform="translate(61.70,870.95) scale(1.02,1)" font-size="13.2" font-weight="bold" text-anchor="end" fill="#000" stroke="#000" stroke-width="0.45">0</text>
<line x1="71.25" y1="867.00" x2="71.25" y2="869.80" stroke="#050505" stroke-width="1.0"/>
<text transform="translate(71.25,881.50) scale(0.96,1)" font-size="13.3" font-weight="bold" text-anchor="middle" fill="#000" stroke="#000" stroke-width="0.45">0</text>
<line x1="96.25" y1="867.00" x2="96.25" y2="869.80" stroke="#050505" stroke-width="1.0"/>
<text transform="translate(96.25,881.50) scale(0.96,1)" font-size="13.3" font-weight="bold" text-anchor="middle" fill="#000" stroke="#000" stroke-width="0.45">5</text>
<line x1="121.50" y1="867.00" x2="121.50" y2="869.80" stroke="#050505" stroke-width="1.0"/>
<text transform="translate(121.50,881.50) scale(0.96,1)" font-size="13.3" font-weight="bold" text-anchor="middle" fill="#000" stroke="#000" stroke-width="0.45">10</text>
<line x1="147.00" y1="867.00" x2="147.00" y2="869.80" stroke="#050505" stroke-width="1.0"/>
<text transform="translate(147.00,881.50) scale(0.96,1)" font-size="13.3" font-weight="bold" text-anchor="middle" fill="#000" stroke="#000" stroke-width="0.45">15</text>
<line x1="172.00" y1="867.00" x2="172.00" y2="869.80" stroke="#050505" stroke-width="1.0"/>
<text transform="translate(172.00,881.50) scale(0.96,1)" font-size="13.3" font-weight="bold" text-anchor="middle" fill="#000" stroke="#000" stroke-width="0.45">20</text>
<line x1="198.00" y1="867.00" x2="198.00" y2="869.80" stroke="#050505" stroke-width="1.0"/>
<text transform="translate(198.00,881.50) scale(0.96,1)" font-size="13.3" font-weight="bold" text-anchor="middle" fill="#000" stroke="#000" stroke-width="0.45">25</text>
<line x1="223.00" y1="867.00" x2="223.00" y2="869.80" stroke="#050505" stroke-width="1.0"/>
<text transform="translate(223.00,881.50) scale(0.96,1)" font-size="13.3" font-weight="bold" text-anchor="middle" fill="#000" stroke="#000" stroke-width="0.45">30</text>
<line x1="76.25" y1="743.00" x2="76.25" y2="794.25" stroke="#151515" stroke-width="1.1"/>
<line x1="74.85" y1="743.00" x2="77.65" y2="743.00" stroke="#151515" stroke-width="1.1"/>
<line x1="74.85" y1="794.25" x2="77.65" y2="794.25" stroke="#151515" stroke-width="1.1"/>
<line x1="96.25" y1="800.00" x2="96.25" y2="840.00" stroke="#151515" stroke-width="1.1"/>
<line x1="94.85" y1="800.00" x2="97.65" y2="800.00" stroke="#151515" stroke-width="1.1"/>
<line x1="94.85" y1="840.00" x2="97.65" y2="840.00" stroke="#151515" stroke-width="1.1"/>
<line x1="121.50" y1="829.25" x2="121.50" y2="867.00" stroke="#151515" stroke-width="1.1"/>
<line x1="120.10" y1="829.25" x2="122.90" y2="829.25" stroke="#151515" stroke-width="1.1"/>
<line x1="172.00" y1="842.50" x2="172.00" y2="867.00" stroke="#151515" stroke-width="1.1"/>
<line x1="170.60" y1="842.50" x2="173.40" y2="842.50" stroke="#151515" stroke-width="1.1"/>
<polyline points="71.25,772.50 76.25,768.60 96.25,820.40 121.50,850.30 172.00,856.50 222.50,865.00" fill="none" stroke="#000" stroke-width="1.3"/>
<rect x="68.85" y="770.10" width="4.80" height="4.80" fill="#000"/>
<rect x="73.85" y="766.20" width="4.80" height="4.80" fill="#000"/>
<rect x="93.85" y="818.00" width="4.80" height="4.80" fill="#000"/>
<rect x="119.10" y="847.90" width="4.80" height="4.80" fill="#000"/>
<rect x="169.60" y="854.10" width="4.80" height="4.80" fill="#000"/>
<rect x="220.10" y="862.60" width="4.80" height="4.80" fill="#000"/>
<text transform="translate(97.00,798.42) scale(1.0,1)" font-size="21" font-weight="bold" text-anchor="middle" fill="#000" stroke="#000" stroke-width="0.35">*</text>
<text transform="translate(121.50,830.42) scale(1.0,1)" font-size="21" font-weight="bold" text-anchor="middle" fill="#000" stroke="#000" stroke-width="0.35">*</text>
<text transform="translate(172.00,844.67) scale(1.0,1)" font-size="21" font-weight="bold" text-anchor="middle" fill="#000" stroke="#000" stroke-width="0.35">*</text>
<text transform="translate(222.50,864.92) scale(1.0,1)" font-size="21" font-weight="bold" text-anchor="middle" fill="#000" stroke="#000" stroke-width="0.35">*</text>
<text transform="translate(147.10,904.85) scale(1.008,1)" font-size="15.9" font-weight="bold" text-anchor="middle" fill="#000" stroke="#000" stroke-width="0.45">SMA-ZnPP (µM)</text>
<text transform="translate(11.50,807.30) rotate(-90) scale(1.0,1)" font-size="13.6" font-weight="bold" text-anchor="middle" fill="#000" stroke="#000" stroke-width="0.45"><tspan font-size="7.9" dy="-4.5">3</tspan><tspan dy="4.5">H-Thymidine uptake</tspan></text>
<text transform="translate(27.70,807.00) rotate(-90) scale(1.0,1)" font-size="13.6" font-weight="bold" text-anchor="middle" fill="#000" stroke="#000" stroke-width="0.45">(% of Control)</text>
<text transform="translate(-0.46,726.25) scale(1.04,1)" font-size="23.3" font-weight="normal" text-anchor="start" fill="#000" stroke="#000" stroke-width="1.3" stroke-linejoin="round">E</text>
<line x1="324.25" y1="742.50" x2="324.25" y2="867.75" stroke="#050505" stroke-width="1.1"/>
<line x1="321.25" y1="867.25" x2="494.00" y2="867.25" stroke="#050505" stroke-width="1.2"/>
<line x1="321.25" y1="759.10" x2="324.25" y2="759.10" stroke="#050505" stroke-width="1.0"/>
<text transform="translate(320.00,763.30) scale(1.01,1)" font-size="13.6" font-weight="bold" text-anchor="end" fill="#000" stroke="#000" stroke-width="0.45">100</text>
<line x1="321.25" y1="780.60" x2="324.25" y2="780.60" stroke="#050505" stroke-width="1.0"/>
<text transform="translate(320.00,784.80) scale(1.01,1)" font-size="13.6" font-weight="bold" text-anchor="end" fill="#000" stroke="#000" stroke-width="0.45">80</text>
<line x1="321.25" y1="802.40" x2="324.25" y2="802.40" stroke="#050505" stroke-width="1.0"/>
<text transform="translate(320.00,806.60) scale(1.01,1)" font-size="13.6" font-weight="bold" text-anchor="end" fill="#000" stroke="#000" stroke-width="0.45">60</text>
<line x1="321.25" y1="824.10" x2="324.25" y2="824.10" stroke="#050505" stroke-width="1.0"/>
<text transform="translate(320.00,828.30) scale(1.01,1)" font-size="13.6" font-weight="bold" text-anchor="end" fill="#000" stroke="#000" stroke-width="0.45">40</text>
<line x1="321.25" y1="845.80" x2="324.25" y2="845.80" stroke="#050505" stroke-width="1.0"/>
<text transform="translate(320.00,850.00) scale(1.01,1)" font-size="13.6" font-weight="bold" text-anchor="end" fill="#000" stroke="#000" stroke-width="0.45">20</text>
<text transform="translate(320.00,871.45) scale(1.01,1)" font-size="13.6" font-weight="bold" text-anchor="end" fill="#000" stroke="#000" stroke-width="0.45">0</text>
<line x1="328.75" y1="867.25" x2="328.75" y2="870.05" stroke="#050505" stroke-width="1.0"/>
<text transform="translate(328.75,882.00) scale(0.98,1)" font-size="13.2" font-weight="bold" text-anchor="middle" fill="#000" stroke="#000" stroke-width="0.45">0</text>
<line x1="354.25" y1="867.25" x2="354.25" y2="870.05" stroke="#050505" stroke-width="1.0"/>
<text transform="translate(354.25,882.00) scale(0.98,1)" font-size="13.2" font-weight="bold" text-anchor="middle" fill="#000" stroke="#000" stroke-width="0.45">5</text>
<line x1="379.75" y1="867.25" x2="379.75" y2="870.05" stroke="#050505" stroke-width="1.0"/>
<text transform="translate(379.75,882.00) scale(0.98,1)" font-size="13.2" font-weight="bold" text-anchor="middle" fill="#000" stroke="#000" stroke-width="0.45">10</text>
<line x1="405.00" y1="867.25" x2="405.00" y2="870.05" stroke="#050505" stroke-width="1.0"/>
<text transform="translate(405.00,882.00) scale(0.98,1)" font-size="13.2" font-weight="bold" text-anchor="middle" fill="#000" stroke="#000" stroke-width="0.45">15</text>
<line x1="430.50" y1="867.25" x2="430.50" y2="870.05" stroke="#050505" stroke-width="1.0"/>
<text transform="translate(430.50,882.00) scale(0.98,1)" font-size="13.2" font-weight="bold" text-anchor="middle" fill="#000" stroke="#000" stroke-width="0.45">20</text>
<line x1="455.75" y1="867.25" x2="455.75" y2="870.05" stroke="#050505" stroke-width="1.0"/>
<text transform="translate(455.75,882.00) scale(0.98,1)" font-size="13.2" font-weight="bold" text-anchor="middle" fill="#000" stroke="#000" stroke-width="0.45">25</text>
<line x1="480.75" y1="867.25" x2="480.75" y2="870.05" stroke="#050505" stroke-width="1.0"/>
<text transform="translate(480.75,882.00) scale(0.98,1)" font-size="13.2" font-weight="bold" text-anchor="middle" fill="#000" stroke="#000" stroke-width="0.45">30</text>
<line x1="334.25" y1="745.75" x2="334.25" y2="767.50" stroke="#151515" stroke-width="1.1"/>
<line x1="332.85" y1="745.75" x2="335.65" y2="745.75" stroke="#151515" stroke-width="1.1"/>
<line x1="332.85" y1="767.50" x2="335.65" y2="767.50" stroke="#151515" stroke-width="1.1"/>
<line x1="354.25" y1="801.25" x2="354.25" y2="840.00" stroke="#151515" stroke-width="1.1"/>
<line x1="352.85" y1="801.25" x2="355.65" y2="801.25" stroke="#151515" stroke-width="1.1"/>
<line x1="352.85" y1="840.00" x2="355.65" y2="840.00" stroke="#151515" stroke-width="1.1"/>
<line x1="379.75" y1="833.25" x2="379.75" y2="863.75" stroke="#151515" stroke-width="1.1"/>
<line x1="378.35" y1="833.25" x2="381.15" y2="833.25" stroke="#151515" stroke-width="1.1"/>
<line x1="378.35" y1="863.75" x2="381.15" y2="863.75" stroke="#151515" stroke-width="1.1"/>
<line x1="430.50" y1="855.50" x2="430.50" y2="867.00" stroke="#151515" stroke-width="1.1"/>
<line x1="429.10" y1="855.50" x2="431.90" y2="855.50" stroke="#151515" stroke-width="1.1"/>
<line x1="480.50" y1="861.00" x2="480.50" y2="867.00" stroke="#151515" stroke-width="1.1"/>
<line x1="479.10" y1="861.00" x2="481.90" y2="861.00" stroke="#151515" stroke-width="1.1"/>
<polyline points="328.75,759.00 334.25,757.00 354.25,820.50 379.75,848.75 430.50,862.50 480.50,864.50" fill="none" stroke="#000" stroke-width="1.3"/>
<rect x="326.35" y="756.60" width="4.80" height="4.80" fill="#000"/>
<rect x="331.85" y="754.60" width="4.80" height="4.80" fill="#000"/>
<rect x="351.85" y="818.10" width="4.80" height="4.80" fill="#000"/>
<rect x="377.35" y="846.35" width="4.80" height="4.80" fill="#000"/>
<rect x="428.10" y="860.10" width="4.80" height="4.80" fill="#000"/>
<rect x="478.10" y="862.10" width="4.80" height="4.80" fill="#000"/>
<text transform="translate(355.10,800.92) scale(1.0,1)" font-size="21" font-weight="bold" text-anchor="middle" fill="#000" stroke="#000" stroke-width="0.35">*</text>
<text transform="translate(380.00,834.82) scale(1.0,1)" font-size="21" font-weight="bold" text-anchor="middle" fill="#000" stroke="#000" stroke-width="0.35">*</text>
<text transform="translate(430.50,856.22) scale(1.0,1)" font-size="21" font-weight="bold" text-anchor="middle" fill="#000" stroke="#000" stroke-width="0.35">*</text>
<text transform="translate(480.75,863.02) scale(1.0,1)" font-size="21" font-weight="bold" text-anchor="middle" fill="#000" stroke="#000" stroke-width="0.35">*</text>
<text transform="translate(404.50,904.70) scale(1.0,1)" font-size="14.8" font-weight="bold" text-anchor="middle" fill="#000" stroke="#000" stroke-width="0.45">PEG-ZnPP&#160;&#160;(µM)</text>
<text transform="translate(273.60,805.90) rotate(-90) scale(1.0,1)" font-size="13.2" font-weight="bold" text-anchor="middle" fill="#000" stroke="#000" stroke-width="0.45"><tspan font-size="7.7" dy="-4.4">3</tspan><tspan dy="4.4">H-Thymidine uptake</tspan></text>
<text transform="translate(289.70,805.30) rotate(-90) scale(1.0,1)" font-size="13.2" font-weight="bold" text-anchor="middle" fill="#000" stroke="#000" stroke-width="0.45">(% of Control)</text>
<text transform="translate(262.24,726.25) scale(1.04,1)" font-size="23.3" font-weight="normal" text-anchor="start" fill="#000" stroke="#000" stroke-width="1.3" stroke-linejoin="round">F</text>
<line x1="63.00" y1="968.75" x2="63.00" y2="1094.75" stroke="#050505" stroke-width="1.1"/>
<line x1="60.00" y1="1094.25" x2="235.00" y2="1094.25" stroke="#050505" stroke-width="1.2"/>
<line x1="60.00" y1="978.40" x2="63.00" y2="978.40" stroke="#050505" stroke-width="1.0"/>
<text transform="translate(58.00,982.70) scale(0.935,1)" font-size="13.6" font-weight="bold" text-anchor="end" fill="#000" stroke="#000" stroke-width="0.45">120</text>
<line x1="60.00" y1="997.60" x2="63.00" y2="997.60" stroke="#050505" stroke-width="1.0"/>
<text transform="translate(58.00,1001.90) scale(0.935,1)" font-size="13.6" font-weight="bold" text-anchor="end" fill="#000" stroke="#000" stroke-width="0.45">100</text>
<line x1="60.00" y1="1016.80" x2="63.00" y2="1016.80" stroke="#050505" stroke-width="1.0"/>
<text transform="translate(58.00,1021.10) scale(0.935,1)" font-size="13.6" font-weight="bold" text-anchor="end" fill="#000" stroke="#000" stroke-width="0.45">80</text>
<line x1="60.00" y1="1036.20" x2="63.00" y2="1036.20" stroke="#050505" stroke-width="1.0"/>
<text transform="translate(58.00,1040.50) scale(0.935,1)" font-size="13.6" font-weight="bold" text-anchor="end" fill="#000" stroke="#000" stroke-width="0.45">60</text>
<line x1="60.00" y1="1055.50" x2="63.00" y2="1055.50" stroke="#050505" stroke-width="1.0"/>
<text transform="translate(58.00,1059.80) scale(0.935,1)" font-size="13.6" font-weight="bold" text-anchor="end" fill="#000" stroke="#000" stroke-width="0.45">40</text>
<line x1="60.00" y1="1074.80" x2="63.00" y2="1074.80" stroke="#050505" stroke-width="1.0"/>
<text transform="translate(58.00,1079.10) scale(0.935,1)" font-size="13.6" font-weight="bold" text-anchor="end" fill="#000" stroke="#000" stroke-width="0.45">20</text>
<text transform="translate(58.00,1098.55) scale(0.935,1)" font-size="13.6" font-weight="bold" text-anchor="end" fill="#000" stroke="#000" stroke-width="0.45">0</text>
<line x1="66.25" y1="1094.25" x2="66.25" y2="1097.05" stroke="#050505" stroke-width="1.0"/>
<text transform="translate(66.25,1109.40) scale(0.97,1)" font-size="13.5" font-weight="bold" text-anchor="middle" fill="#000" stroke="#000" stroke-width="0.45">0</text>
<line x1="98.25" y1="1094.25" x2="98.25" y2="1097.05" stroke="#050505" stroke-width="1.0"/>
<text transform="translate(98.25,1109.40) scale(0.97,1)" font-size="13.5" font-weight="bold" text-anchor="middle" fill="#000" stroke="#000" stroke-width="0.45">10</text>
<line x1="130.00" y1="1094.25" x2="130.00" y2="1097.05" stroke="#050505" stroke-width="1.0"/>
<text transform="translate(130.00,1109.40) scale(0.97,1)" font-size="13.5" font-weight="bold" text-anchor="middle" fill="#000" stroke="#000" stroke-width="0.45">20</text>
<line x1="161.75" y1="1094.25" x2="161.75" y2="1097.05" stroke="#050505" stroke-width="1.0"/>
<text transform="translate(161.75,1109.40) scale(0.97,1)" font-size="13.5" font-weight="bold" text-anchor="middle" fill="#000" stroke="#000" stroke-width="0.45">30</text>
<line x1="193.75" y1="1094.25" x2="193.75" y2="1097.05" stroke="#050505" stroke-width="1.0"/>
<text transform="translate(193.75,1109.40) scale(0.97,1)" font-size="13.5" font-weight="bold" text-anchor="middle" fill="#000" stroke="#000" stroke-width="0.45">40</text>
<line x1="225.50" y1="1094.25" x2="225.50" y2="1097.05" stroke="#050505" stroke-width="1.0"/>
<text transform="translate(225.50,1109.40) scale(0.97,1)" font-size="13.5" font-weight="bold" text-anchor="middle" fill="#000" stroke="#000" stroke-width="0.45">50</text>
<line x1="69.25" y1="977.50" x2="69.25" y2="1030.00" stroke="#151515" stroke-width="1.1"/>
<line x1="67.85" y1="977.50" x2="70.65" y2="977.50" stroke="#151515" stroke-width="1.1"/>
<line x1="67.85" y1="1030.00" x2="70.65" y2="1030.00" stroke="#151515" stroke-width="1.1"/>
<line x1="82.00" y1="1015.75" x2="82.00" y2="1041.50" stroke="#151515" stroke-width="1.1"/>
<line x1="80.60" y1="1015.75" x2="83.40" y2="1015.75" stroke="#151515" stroke-width="1.1"/>
<line x1="80.60" y1="1041.50" x2="83.40" y2="1041.50" stroke="#151515" stroke-width="1.1"/>
<line x1="98.25" y1="1083.00" x2="98.25" y2="1090.00" stroke="#151515" stroke-width="1.1"/>
<line x1="96.85" y1="1083.00" x2="99.65" y2="1083.00" stroke="#151515" stroke-width="1.1"/>
<line x1="96.85" y1="1090.00" x2="99.65" y2="1090.00" stroke="#151515" stroke-width="1.1"/>
<line x1="130.00" y1="1077.50" x2="130.00" y2="1094.00" stroke="#151515" stroke-width="1.1"/>
<line x1="128.60" y1="1077.50" x2="131.40" y2="1077.50" stroke="#151515" stroke-width="1.1"/>
<polyline points="66.25,997.70 69.25,1003.75 82.00,1028.25 98.25,1086.25 130.00,1087.75 225.50,1093.25" fill="none" stroke="#000" stroke-width="1.3"/>
<rect x="63.85" y="995.30" width="4.80" height="4.80" fill="#000"/>
<rect x="66.85" y="1001.35" width="4.80" height="4.80" fill="#000"/>
<rect x="79.60" y="1025.85" width="4.80" height="4.80" fill="#000"/>
<rect x="95.85" y="1083.85" width="4.80" height="4.80" fill="#000"/>
<rect x="127.60" y="1085.35" width="4.80" height="4.80" fill="#000"/>
<rect x="223.10" y="1090.85" width="4.80" height="4.80" fill="#000"/>
<text transform="translate(82.50,1019.57) scale(1.0,1)" font-size="21" font-weight="bold" text-anchor="middle" fill="#000" stroke="#000" stroke-width="0.35">*</text>
<text transform="translate(100.00,1084.07) scale(1.0,1)" font-size="21" font-weight="bold" text-anchor="middle" fill="#000" stroke="#000" stroke-width="0.35">*</text>
<text transform="translate(130.00,1078.82) scale(1.0,1)" font-size="21" font-weight="bold" text-anchor="middle" fill="#000" stroke="#000" stroke-width="0.35">*</text>
<text transform="translate(225.00,1094.82) scale(1.0,1)" font-size="21" font-weight="bold" text-anchor="middle" fill="#000" stroke="#000" stroke-width="0.35">*</text>
<text transform="translate(147.10,1134.50) scale(1.0,1)" font-size="15" font-weight="bold" text-anchor="middle" fill="#000" stroke="#000" stroke-width="0.45">SMA-ZnPP&#160;&#160;(µM)</text>
<text transform="translate(11.50,1034.00) rotate(-90) scale(1.0,1)" font-size="13.1" font-weight="bold" text-anchor="middle" fill="#000" stroke="#000" stroke-width="0.45"><tspan font-size="7.6" dy="-4.3">3</tspan><tspan dy="4.3">H-Thymidine uptake</tspan></text>
<text transform="translate(27.00,1033.75) rotate(-90) scale(1.0,1)" font-size="13.1" font-weight="bold" text-anchor="middle" fill="#000" stroke="#000" stroke-width="0.45">(% of Control)</text>
<text transform="translate(0.51,951.65) scale(1.04,1)" font-size="23.3" font-weight="normal" text-anchor="start" fill="#000" stroke="#000" stroke-width="1.3" stroke-linejoin="round">G</text>
</svg>
</body></html>
